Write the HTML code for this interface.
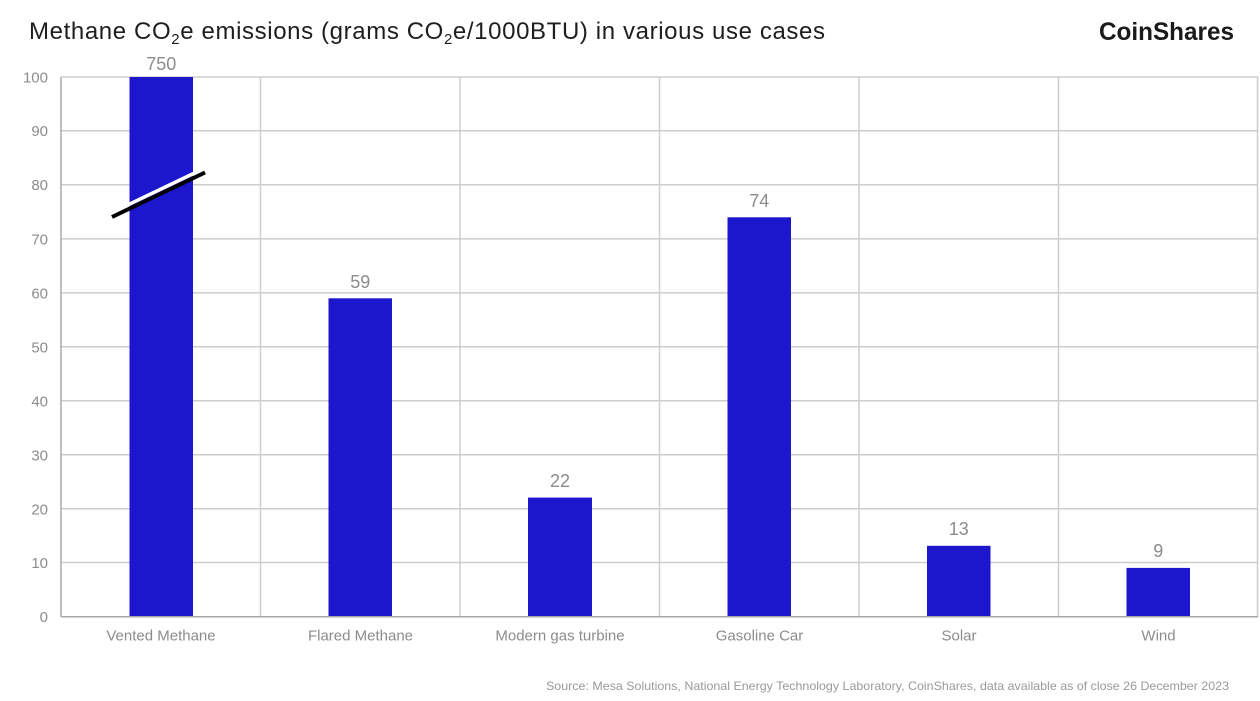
<!DOCTYPE html>
<html><head><meta charset="utf-8"><style>
html,body{margin:0;padding:0;background:#fff;}
svg{display:block;}
</style></head><body>
<svg width="1260" height="701" viewBox="0 0 1260 701" xmlns="http://www.w3.org/2000/svg" font-family="Liberation Sans, sans-serif">
<rect width="1260" height="701" fill="#fff"/>
<text x="29" y="39" font-size="24" fill="#1e1e1e" textLength="796" lengthAdjust="spacing">Methane CO<tspan font-size="15" dy="5">2</tspan><tspan dy="-5">e emissions (grams CO</tspan><tspan font-size="15" dy="5">2</tspan><tspan dy="-5">e/1000BTU) in various use cases</tspan></text>
<text x="1099" y="40" font-size="25" font-weight="bold" fill="#1a1a1a" textLength="135" lengthAdjust="spacingAndGlyphs">CoinShares</text>
<g stroke="#cdcdcd" stroke-width="1.5">
<line x1="61" y1="77" x2="1258" y2="77"/>
<line x1="61" y1="130.7" x2="1258" y2="130.7"/>
<line x1="61" y1="184.7" x2="1258" y2="184.7"/>
<line x1="61" y1="238.9" x2="1258" y2="238.9"/>
<line x1="61" y1="292.9" x2="1258" y2="292.9"/>
<line x1="61" y1="346.8" x2="1258" y2="346.8"/>
<line x1="61" y1="400.8" x2="1258" y2="400.8"/>
<line x1="61" y1="454.8" x2="1258" y2="454.8"/>
<line x1="61" y1="508.8" x2="1258" y2="508.8"/>
<line x1="61" y1="562.5" x2="1258" y2="562.5"/>
<line x1="260.5" y1="77" x2="260.5" y2="616.7"/>
<line x1="460" y1="77" x2="460" y2="616.7"/>
<line x1="659.5" y1="77" x2="659.5" y2="616.7"/>
<line x1="859" y1="77" x2="859" y2="616.7"/>
<line x1="1058.5" y1="77" x2="1058.5" y2="616.7"/>
<line x1="1257.5" y1="77" x2="1257.5" y2="616.7"/>
</g>
<g fill="#1c16cd">
<rect x="129.5" y="77" width="63.5" height="539.7"/>
<rect x="328.5" y="298.3" width="63.5" height="318.4"/>
<rect x="528" y="497.6" width="64" height="119.1"/>
<rect x="727.5" y="217.3" width="63.5" height="399.4"/>
<rect x="927" y="545.8" width="63.5" height="70.9"/>
<rect x="1126.5" y="567.9" width="63.5" height="48.8"/>
</g>
<g stroke="#a8a8a8" stroke-width="1.5">
<line x1="61" y1="77" x2="61" y2="617"/>
<line x1="61" y1="616.7" x2="1258" y2="616.7"/>
</g>
<line x1="112" y1="212.5" x2="205" y2="168" stroke="#fff" stroke-width="3.5"/>
<line x1="112" y1="217" x2="205" y2="172.5" stroke="#000" stroke-width="4"/>
<g font-size="15" fill="#8c8c8c" text-anchor="end">
<text x="48" y="82.5">100</text>
<text x="48" y="136.2">90</text>
<text x="48" y="190.2">80</text>
<text x="48" y="244.4">70</text>
<text x="48" y="298.4">60</text>
<text x="48" y="352.3">50</text>
<text x="48" y="406.3">40</text>
<text x="48" y="460.3">30</text>
<text x="48" y="514.3">20</text>
<text x="48" y="568">10</text>
<text x="48" y="622.2">0</text>
</g>
<g font-size="18" fill="#8c8c8c" text-anchor="middle">
<text x="161.3" y="70">750</text>
<text x="360.3" y="288">59</text>
<text x="560" y="487">22</text>
<text x="759.3" y="207">74</text>
<text x="958.8" y="535">13</text>
<text x="1158.3" y="557">9</text>
</g>
<g font-size="15" fill="#8c8c8c" text-anchor="middle">
<text x="161" y="640.5">Vented Methane</text>
<text x="360.5" y="640.5">Flared Methane</text>
<text x="560" y="640.5">Modern gas turbine</text>
<text x="759.5" y="640.5">Gasoline Car</text>
<text x="959" y="640.5">Solar</text>
<text x="1158.5" y="640.5">Wind</text>
</g>
<text x="1229" y="690" font-size="12" fill="#9a9a9a" text-anchor="end" textLength="683" lengthAdjust="spacingAndGlyphs">Source: Mesa Solutions, National Energy Technology Laboratory, CoinShares, data available as of close 26 December 2023</text>
</svg>
</body></html>
